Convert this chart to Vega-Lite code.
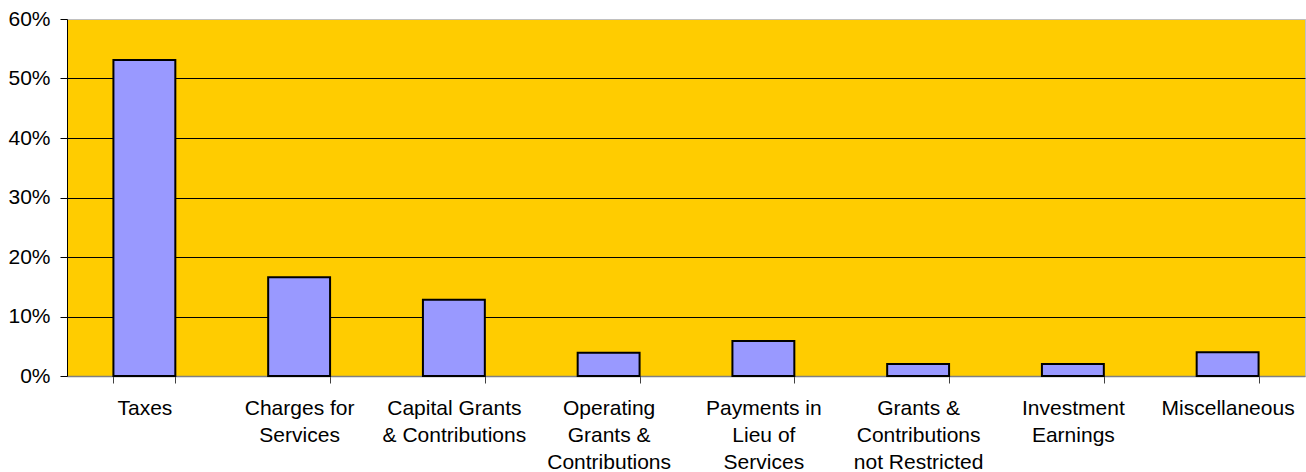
{
  "$schema": "https://vega.github.io/schema/vega-lite/v6.json",
  "autosize": {"type": "none"},
  "padding": {"left": 67, "top": 19, "right": 1, "bottom": 96},
  "width": 1238,
  "height": 357,
  "background": "white",
  "config": {
    "view": {"fill": "#FFCC00", "stroke": "#C0C0C0", "strokeWidth": 1},
    "font": "Liberation Sans"
  },
  "data": {
    "values": [
      {"category": "Taxes", "share": 0.531},
      {"category": "Charges for|Services", "share": 0.166},
      {"category": "Capital Grants|& Contributions", "share": 0.128},
      {"category": "Operating|Grants &|Contributions", "share": 0.039},
      {"category": "Payments in|Lieu of|Services", "share": 0.059},
      {"category": "Grants &|Contributions|not Restricted", "share": 0.020},
      {"category": "Investment|Earnings", "share": 0.020},
      {"category": "Miscellaneous", "share": 0.040}
    ]
  },
  "mark": {"type": "bar", "color": "#9999FF", "stroke": "#000000", "strokeWidth": 2},
  "encoding": {
    "x": {
      "field": "category",
      "type": "nominal",
      "sort": null,
      "scale": {"paddingInner": 0.6, "paddingOuter": 0.3},
      "axis": {
        "title": null,
        "labelAngle": 0,
        "labelExpr": "split(datum.label, '|')",
        "labelFont": "Liberation Sans",
        "labelFontSize": 21,
        "labelColor": "#000000",
        "labelLineHeight": 27,
        "labelBaseline": "alphabetic",
        "labelPadding": 31,
        "labelLimit": 0,
        "tickSize": 7,
        "tickColor": "#404040",
        "tickBand": "extent",
        "domainColor": "#808080",
        "domainWidth": 1.5,
        "grid": false
      }
    },
    "y": {
      "field": "share",
      "type": "quantitative",
      "scale": {"domain": [0, 0.6], "nice": false},
      "axis": {
        "title": null,
        "values": [0, 0.1, 0.2, 0.3, 0.4, 0.5, 0.6],
        "format": ".0%",
        "labelFont": "Liberation Sans",
        "labelFontSize": 21,
        "labelColor": "#000000",
        "labelPadding": 10,
        "tickSize": 7,
        "tickColor": "#000000",
        "domainColor": "#000000",
        "grid": true,
        "gridColor": {"condition": {"test": "datum.value >= 0.6 || datum.value <= 0", "value": "#C0C0C0"}, "value": "#000000"},
        "gridOpacity": 1,
        "gridWidth": 1
      }
    }
  }
}
